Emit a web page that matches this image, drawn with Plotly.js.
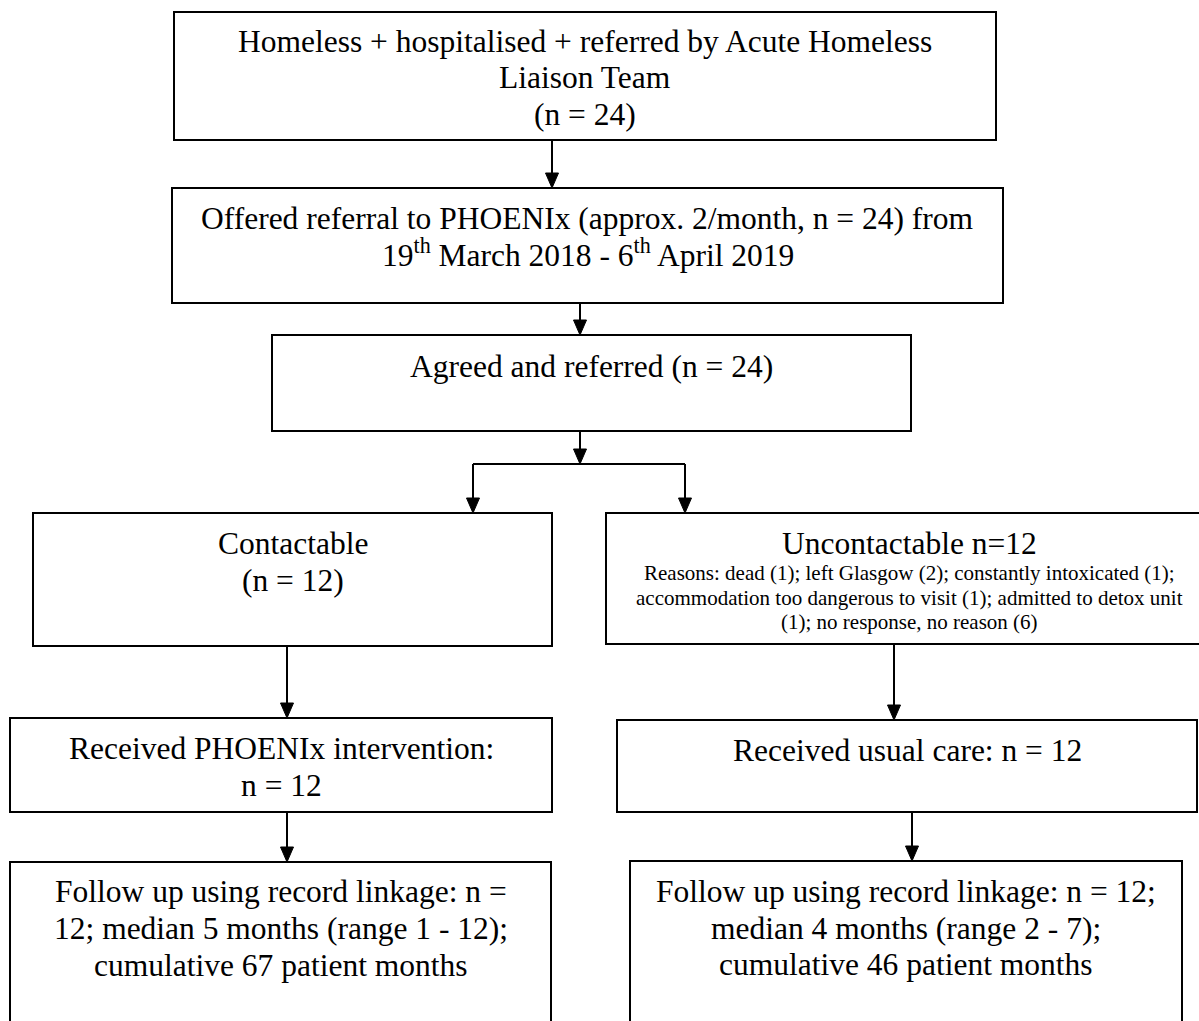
<!DOCTYPE html>
<html>
<head>
<meta charset="utf-8">
<script src="https://cdn.plot.ly/plotly-3.0.1.min.js"></script>
<style>html,body{margin:0;padding:0;background:#fff;}#chart{width:1199px;height:1021px;}</style>
</head>
<body>
<div id="chart"></div>
<script>
// ---- Data: participant counts at each stage ----
const stageNames = ["Referred by AHLT", "Offered referral", "Agreed and referred", "Contactable", "Uncontactable", "PHOENIx intervention", "Usual care", "Follow up (PHOENIx)", "Follow up (usual care)"];
const stageCounts = [24, 24, 24, 12, 12, 12, 12, 12, 12];
const uncontactableReasons = ["dead", "left Glasgow", "constantly intoxicated", "accommodation too dangerous to visit", "admitted to detox unit", "no response, no reason"];
const uncontactableCounts = [1, 2, 1, 1, 1, 6];
const followUpMedian = [5, 4];
const followUpRangeMin = [1, 2];
const followUpRangeMax = [12, 7];
const followUpCumulative = [67, 46];

// ---- Text lines per box (built from the data) ----
const r = uncontactableReasons, rc = uncontactableCounts;
const boxLines = [
  ["Homeless + hospitalised + referred by Acute Homeless", "Liaison Team", "(n = " + stageCounts[0] + ")"],
  ["Offered referral to PHOENIx (approx. 2/month, n = " + stageCounts[1] + ") from", "19<sup>th</sup> March 2018 - 6<sup>th</sup> April 2019"],
  ["Agreed and referred (n = " + stageCounts[2] + ")"],
  ["Contactable", "(n = " + stageCounts[3] + ")"],
  ["Uncontactable n=" + stageCounts[4],
   "Reasons: " + r[0] + " (" + rc[0] + "); " + r[1] + " (" + rc[1] + "); " + r[2] + " (" + rc[2] + ");",
   r[3] + " (" + rc[3] + "); " + r[4],
   "(" + rc[4] + "); " + r[5] + " (" + rc[5] + ")"],
  ["Received PHOENIx intervention:", "n = " + stageCounts[5]],
  ["Received usual care: n = " + stageCounts[6]],
  ["Follow up using record linkage: n =", stageCounts[7] + "; median " + followUpMedian[0] + " months (range " + followUpRangeMin[0] + " - " + followUpRangeMax[0] + ");", "cumulative " + followUpCumulative[0] + " patient months"],
  ["Follow up using record linkage: n = " + stageCounts[8] + ";", "median " + followUpMedian[1] + " months (range " + followUpRangeMin[1] + " - " + followUpRangeMax[1] + ");", "cumulative " + followUpCumulative[1] + " patient months"]
];

// ---- Layout geometry (pixels, y downward) ----
const boxRects = [
  [174, 12, 996, 140],
  [172, 188, 1003, 303],
  [272, 335, 911, 431],
  [33, 513, 552, 646],
  [606, 513, 1212, 644],
  [10, 718, 552, 812],
  [617, 720, 1197, 812],
  [10, 862, 551, 1040],
  [630, 861, 1182, 1040]
];
const lineYs = [
  [41, 77, 114],
  [218, 253],
  [366],
  [543, 580],
  [543, 573, 598, 622],
  [748, 785],
  [750],
  [891, 928, 965],
  [891, 928, 964]
];
const lineSizes = [
  [31.5, 31.5, 31.5],
  [31.5, 31.5],
  [31.5],
  [31.5, 31.5],
  [31.5, 21, 21, 21],
  [31.5, 31.5],
  [31.5],
  [31.5, 31.5, 31.5],
  [31.5, 31.5, 31.5]
];
// arrows: [x, yStart, yTip]
const arrows = [
  [552, 140, 188],
  [580, 303, 335],
  [580, 431, 464],
  [473, 464, 513],
  [685, 464, 513],
  [287, 646, 718],
  [894, 644, 720],
  [287, 812, 862],
  [912, 812, 861]
];
const plainLines = [[473, 464, 685, 464]];

const shapes = [];
const annotations = [];
const FONT = "Liberation Serif";

boxRects.forEach(b => {
  shapes.push({type: 'rect', xref: 'x', yref: 'y', x0: b[0], y0: b[1], x1: b[2], y1: b[3],
    line: {color: '#000', width: 2}, fillcolor: 'rgba(0,0,0,0)'});
});
boxLines.forEach((lines, i) => {
  const b = boxRects[i];
  const cx = (b[0] + b[2]) / 2;
  lines.forEach((t, j) => {
    annotations.push({text: t, x: cx, y: lineYs[i][j], xref: 'x', yref: 'y', showarrow: false,
      xanchor: 'center', yanchor: 'middle',
      font: {family: FONT, size: lineSizes[i][j], color: '#000'}});
  });
});
const headW = 6.5, headH = 15;
arrows.forEach(a => {
  const [x, y0, y1] = a;
  shapes.push({type: 'line', xref: 'x', yref: 'y', x0: x, y0: y0, x1: x, y1: y1 - headH + 1,
    line: {color: '#000', width: 2}});
  shapes.push({type: 'path', xref: 'x', yref: 'y',
    path: `M ${x - headW},${y1 - headH} L ${x + headW},${y1 - headH} L ${x},${y1} Z`,
    fillcolor: '#000', line: {color: '#000', width: 1}});
});
plainLines.forEach(l => {
  shapes.push({type: 'line', xref: 'x', yref: 'y', x0: l[0], y0: l[1], x1: l[2], y1: l[3],
    line: {color: '#000', width: 2}});
});

const layout = {
  width: 1199, height: 1021,
  margin: {l: 0, r: 0, t: 0, b: 0},
  paper_bgcolor: '#fff', plot_bgcolor: '#fff',
  showlegend: false,
  font: {family: FONT, color: '#000'},
  xaxis: {range: [0, 1199], visible: false, fixedrange: true},
  yaxis: {range: [1021, 0], visible: false, fixedrange: true},
  shapes: shapes,
  annotations: annotations
};

Plotly.newPlot('chart', [{x: [], y: [], type: 'scatter', mode: 'markers', hoverinfo: 'skip'}], layout,
  {staticPlot: true, displayModeBar: false});
</script>
</body>
</html>
